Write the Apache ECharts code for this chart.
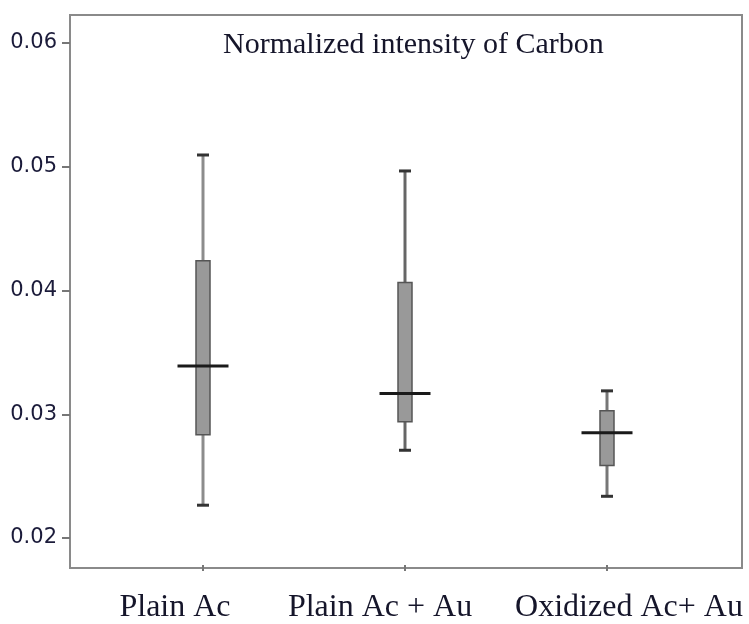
<!DOCTYPE html>
<html>
<head>
<meta charset="utf-8">
<script src="https://cdn.jsdelivr.net/npm/echarts@6/dist/echarts.min.js"></script>
<style>
  html, body { margin: 0; padding: 0; background: #fff; }
  #chart { width: 749px; height: 624px; }
</style>
</head>
<body>
<div id="chart"></div>
<script>
// ---- Data ----
const categories = ['Plain Ac', 'Plain Ac + Au', 'Oxidized Ac+ Au'];
const whiskerLow  = [0.02265, 0.02709, 0.02337];
const q1          = [0.02835, 0.02940, 0.02586];
const median      = [0.03390, 0.03167, 0.02851];
const q3          = [0.04241, 0.04064, 0.03028];
const whiskerHigh = [0.05095, 0.04966, 0.03189];
const yTickValues = [0.02, 0.03, 0.04, 0.05, 0.06];
const titleText = 'Normalized intensity of Carbon';

const boxData = categories.map((c, i) => [i, whiskerLow[i], q1[i], median[i], q3[i], whiskerHigh[i]]);

const whiskerColors = ['#8c8c8c', '#666666', '#777777'];
const labelShift = [-28, -25, 22];

function renderBox(params, api) {
  const i = api.value(0);
  const pLow = api.coord([i, api.value(1)]);
  const pQ1 = api.coord([i, api.value(2)]);
  const pMed = api.coord([i, api.value(3)]);
  const pQ3 = api.coord([i, api.value(4)]);
  const pHigh = api.coord([i, api.value(5)]);
  const x = pMed[0];
  const boxW = 14, capW = 12, medW = 51;
  const wc = whiskerColors[i] || '#777';
  return {
    type: 'group',
    children: [
      { type: 'line', shape: { x1: x, y1: pHigh[1], x2: x, y2: pQ3[1] }, style: { stroke: wc, lineWidth: 3 } },
      { type: 'line', shape: { x1: x, y1: pQ1[1], x2: x, y2: pLow[1] }, style: { stroke: wc, lineWidth: 3 } },
      { type: 'line', shape: { x1: x - capW / 2, y1: pHigh[1], x2: x + capW / 2, y2: pHigh[1] }, style: { stroke: '#333', lineWidth: 3 } },
      { type: 'line', shape: { x1: x - capW / 2, y1: pLow[1], x2: x + capW / 2, y2: pLow[1] }, style: { stroke: '#333', lineWidth: 3 } },
      { type: 'rect', shape: { x: x - boxW / 2, y: pQ3[1], width: boxW, height: pQ1[1] - pQ3[1] }, style: { fill: '#999999', stroke: '#555555', lineWidth: 1.5 } },
      { type: 'line', shape: { x1: x - medW / 2, y1: pMed[1], x2: x + medW / 2, y2: pMed[1] }, style: { stroke: '#1a1a1a', lineWidth: 3 } }
    ]
  };
}

const chart = echarts.init(document.getElementById('chart'));
chart.setOption({
  animation: false,
  backgroundColor: '#ffffff',
  title: {
    text: titleText,
    left: 218,
    top: 25,
    textStyle: { fontFamily: 'Liberation Serif', fontSize: 30, fontWeight: 'normal', color: '#15152a' }
  },
  grid: [
    { left: 102, width: 606, top: 43, height: 498, containLabel: false },
    { left: 70, width: 672, top: 15, height: 553, show: true, borderColor: '#8a8a8a', borderWidth: 2, backgroundColor: 'transparent' }
  ],
  xAxis: [
    {
      type: 'category', gridIndex: 0, data: categories, position: 'bottom', offset: 27,
      boundaryGap: true,
      axisLine: { show: false },
      axisTick: { show: true, alignWithLabel: true, length: 6, lineStyle: { color: '#777', width: 2 } },
      axisLabel: {
        interval: 0, margin: 27,
        fontFamily: 'Liberation Serif', fontSize: 32, color: '#15152a',
        formatter: (v, idx) => '{l' + idx + '|' + v + '}',
        rich: {
          l0: { fontFamily: 'Liberation Serif', fontSize: 32, color: '#15152a', padding: [0, -2 * labelShift[0], 0, 0] },
          l1: { fontFamily: 'Liberation Serif', fontSize: 32, color: '#15152a', padding: [0, -2 * labelShift[1], 0, 0] },
          l2: { fontFamily: 'Liberation Serif', fontSize: 32, color: '#15152a', padding: [0, 0, 0, 2 * labelShift[2]] }
        }
      },
      splitLine: { show: false }
    },
    { type: 'value', gridIndex: 1, show: false }
  ],
  yAxis: [
    {
      type: 'value', gridIndex: 0, min: yTickValues[0], max: yTickValues[yTickValues.length - 1], interval: 0.01,
      offset: 32,
      axisLine: { show: false },
      axisTick: { show: true, length: 8, lineStyle: { color: '#777', width: 2 } },
      axisLabel: {
        margin: 13,
        fontFamily: 'DejaVu Sans', fontSize: 21, color: '#1b1b3a',
        formatter: v => v.toFixed(2)
      },
      splitLine: { show: false }
    },
    { type: 'value', gridIndex: 1, show: false }
  ],
  series: [
    {
      type: 'custom',
      xAxisIndex: 0, yAxisIndex: 0,
      renderItem: renderBox,
      encode: { x: 0, y: [1, 2, 3, 4, 5] },
      data: boxData,
      z: 3
    }
  ]
});
</script>
</body>
</html>
